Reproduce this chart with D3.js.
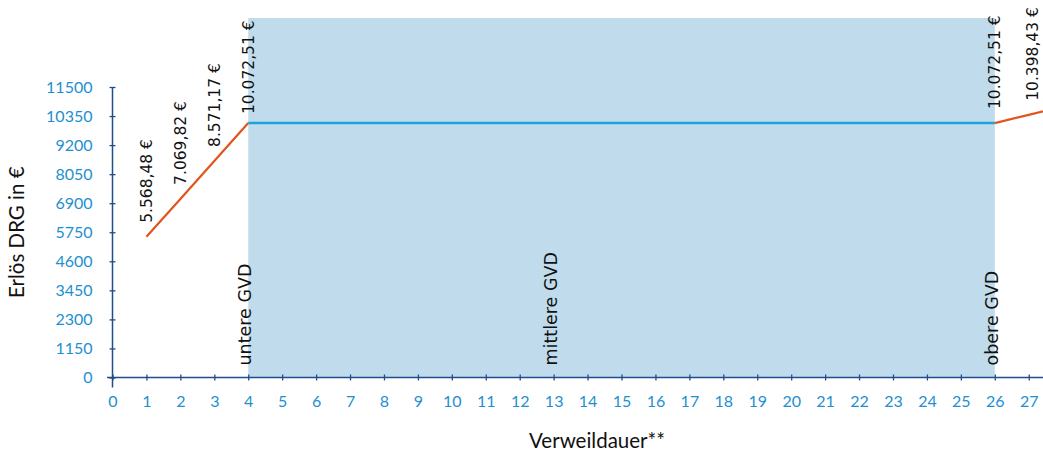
<!DOCTYPE html>
<html>
<head>
<meta charset="utf-8">
<script src="https://cdn.jsdelivr.net/npm/d3@7"></script>
<style>
  html, body { margin: 0; padding: 0; background: #fff; }
  svg { display: block; }
</style>
</head>
<body>
<svg id="chart" width="1043" height="455"></svg>
<script>
// ---- data ----
const days = [1, 2, 3, 4, 26, 27, 28];
const revenue = [5568.48, 7069.82, 8571.17, 10072.51, 10072.51, 10398.43, 10724.35];
const valueLabels = ["5.568,48 €", "7.069,82 €", "8.571,17 €", "10.072,51 €", "10.072,51 €", "10.398,43 €", ""];
const lowerDays = [1, 2, 3, 4];
const upperDays = [26, 27, 28];
const gvdDays = [4, 13, 26];
const gvdLabels = ["untere GVD", "mittlere GVD", "obere GVD"];
const xTicks = d3.range(0, 28);
const yTicks = [0, 1150, 2300, 3450, 4600, 5750, 6900, 8050, 9200, 10350, 11500];
const yTitle = "Erlös DRG in €";
const xTitle = "Verweildauer**";

// ---- layout ----
const svg = d3.select("#chart");
const x = d3.scaleLinear().domain([0, 27.45]).range([112.5, 1044]);
const y = d3.scaleLinear().domain([0, 11500]).range([377.5, 87]);
const plotTop = 18;

const axisColor = "#1f4e8c";
const tickColor = "#1e8fd0";
const orange = "#e2541c";
const blue = "#1ba3dc";
const shade = "#c0dcec";

const valOf = d => revenue[days.indexOf(d)];

// shaded band between untere and obere GVD
svg.append("rect")
  .attr("x", x(gvdDays[0]))
  .attr("y", plotTop)
  .attr("width", x(gvdDays[2]) - x(gvdDays[0]))
  .attr("height", y(0) - plotTop)
  .attr("fill", shade);

// lines
const line = d3.line().x(d => x(d)).y(d => y(valOf(d)));
svg.append("path").datum(lowerDays).attr("d", line)
  .attr("fill", "none").attr("stroke", orange).attr("stroke-width", 2.2);
svg.append("path").datum([4, 26]).attr("d", line)
  .attr("fill", "none").attr("stroke", blue).attr("stroke-width", 2.5);
svg.append("path").datum(upperDays).attr("d", line)
  .attr("fill", "none").attr("stroke", orange).attr("stroke-width", 2.2);

// axes
const xAxis = svg.append("g").attr("transform", `translate(0,${y(0)})`)
  .call(d3.axisBottom(x).tickValues(xTicks).tickSize(3).tickPadding(15).tickFormat(d3.format("d")));
xAxis.select(".domain").remove();
xAxis.append("line").attr("x1", 107).attr("x2", 1043).attr("y1", 0).attr("y2", 0)
  .attr("stroke", axisColor).attr("stroke-width", 1.5);
xAxis.selectAll(".tick line").attr("y1", -3).attr("y2", 3).attr("stroke", axisColor).attr("stroke-width", 1.3);
xAxis.selectAll(".tick text").attr("fill", tickColor)
  .style("font-family", "Lato, sans-serif").style("font-size", "16px");

const yAxis = svg.append("g").attr("transform", `translate(${x(0)},0)`)
  .call(d3.axisLeft(y).tickValues(yTicks).tickSize(3).tickPadding(17).tickFormat(d3.format("d")));
yAxis.select(".domain").remove();
yAxis.append("line").attr("x1", 0).attr("x2", 0).attr("y1", y(11500)).attr("y2", y(0) + 10)
  .attr("stroke", axisColor).attr("stroke-width", 1.5);
yAxis.selectAll(".tick line").attr("x1", -3).attr("x2", 3).attr("stroke", axisColor).attr("stroke-width", 1.3);
yAxis.selectAll(".tick text").attr("fill", tickColor)
  .style("font-family", "Lato, sans-serif").style("font-size", "16px");

// value labels
days.forEach((d, i) => {
  if (!valueLabels[i]) return;
  const off = d === 27 ? 4 : 0;
  svg.append("text")
    .attr("transform", `translate(${x(d) + off},${y(revenue[i]) - (d === 4 ? 9 : 14)}) rotate(-90)`)
    .attr("text-anchor", "start")
    .attr("dy", "0.35em")
    .style("font-family", "'DejaVu Sans', sans-serif")
    .style("font-size", "15.5px")
    .attr("fill", "#111")
    .text(valueLabels[i]);
});

// GVD labels
gvdDays.forEach((d, i) => {
  svg.append("text")
    .attr("transform", `translate(${x(d) - 3},${y(0) - 12}) rotate(-90)`)
    .attr("text-anchor", "start")
    .attr("dy", "0.35em")
    .style("font-family", "'DejaVu Sans', sans-serif")
    .style("font-size", "17.5px")
    .attr("fill", "#111")
    .text(gvdLabels[i]);
});

// axis titles
svg.append("text")
  .attr("transform", `translate(24,${(y(0) + y(11500)) / 2}) rotate(-90)`)
  .attr("text-anchor", "middle")
  .style("font-family", "Lato, sans-serif").style("font-size", "20.5px")
  .attr("fill", "#111")
  .text(yTitle);
svg.append("text")
  .attr("x", 597).attr("y", 448)
  .attr("text-anchor", "middle")
  .style("font-family", "Lato, sans-serif").style("font-size", "20.5px")
  .attr("fill", "#111")
  .text(xTitle);
</script>
</body>
</html>
